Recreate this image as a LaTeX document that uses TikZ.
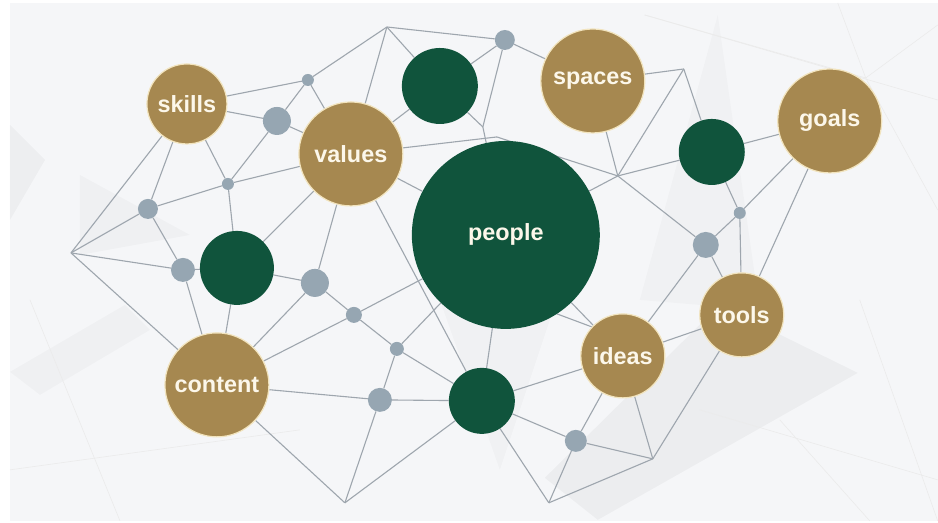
\documentclass[tikz,border=0pt]{standalone}
\usepackage{fontspec}
\setmainfont{Liberation Sans}
\usetikzlibrary{backgrounds}
\definecolor{gold}{RGB}{166,136,80}
\definecolor{goldrim}{RGB}{242,228,190}
\definecolor{pine}{RGB}{16,84,60}
\definecolor{slate}{RGB}{150,166,178}
\definecolor{wire}{RGB}{158,166,174}
\definecolor{cream}{RGB}{252,247,234}
\definecolor{paper}{RGB}{245,246,248}
\begin{document}
\begin{tikzpicture}[
    x=1bp, y=-1bp,
    word/.style={font=\fontsize{23.5}{28}\selectfont\bfseries, text=cream},
    gold node/.style={circle, fill=gold, draw=goldrim, line width=1.2bp, inner sep=0pt, minimum size=#1bp, word},
    green node/.style={circle, fill=pine, inner sep=0pt, minimum size=#1bp, word},
    hub node/.style={circle, fill=slate, inner sep=0pt, minimum size=#1bp},
    every edge/.style={draw=wire, line width=1.1bp},
    faint/.style={draw=black!8, line width=0.6bp},
]
    \node[gold node=80] (skills) at (187,104) {skills};
    \node[gold node=104] (values) at (351,154) {values};
    \node[gold node=104] (spaces) at (593,81) {spaces};
    \node[gold node=104] (goals) at (830,121) {goals};
    \node[gold node=104] (content) at (217,385) {content};
    \node[gold node=84] (ideas) at (623,356) {ideas};
    \node[gold node=84] (tools) at (742,315) {tools};

    \node[green node=188] (people) at (506,235) {people};
    \node[green node=76] (gtop) at (440,86) {};
    \node[green node=66] (gright) at (712,152) {};
    \node[green node=74] (gleft) at (237,268) {};
    \node[green node=66] (gbottom) at (482,401) {};

    \node[hub node=12] (d1) at (308,80) {};
    \node[hub node=28] (d2) at (277,121) {};
    \node[hub node=12] (d3) at (228,184) {};
    \node[hub node=20] (d4) at (148,209) {};
    \node[hub node=20] (d5) at (505,40) {};
    \node[hub node=24] (d6) at (183,270) {};
    \node[hub node=28] (d7) at (315,283) {};
    \node[hub node=16] (d8) at (354,315) {};
    \node[hub node=14] (d9) at (397,349) {};
    \node[hub node=24] (d10) at (380,400) {};
    \node[hub node=22] (d11) at (576,441) {};
    \node[hub node=12] (d12) at (740,213) {};
    \node[hub node=26] (d13) at (706,245) {};

    \coordinate (v1) at (387,27);
    \coordinate (v2) at (71,253);
    \coordinate (v3) at (618,176);
    \coordinate (v4) at (684,69);
    \coordinate (v5) at (345,503);
    \coordinate (v6) at (549,503);
    \coordinate (v7) at (653,459);
    \coordinate (v8) at (497,137);
    \coordinate (v9) at (483,127);
    \coordinate (h1) at (517,299);

    \begin{scope}[on background layer]
        \fill[white] (0,0) rectangle (938,523);
        \fill[paper] (10,3) rectangle (938,521);
        \fill[black, opacity=0.03] (10,125) -- (45,160) -- (10,220) -- cycle;
        \fill[black, opacity=0.025] (10,372) -- (125,305) -- (150,330) -- (40,395) -- cycle;
        \fill[black, opacity=0.025] (80,175) -- (190,235) -- (80,255) -- cycle;
        \fill[black, opacity=0.035] (545,478) -- (598,520) -- (858,373) -- (720,305) -- cycle;
        \fill[black, opacity=0.018] (718,15) -- (760,310) -- (640,300) -- cycle;
        \fill[black, opacity=0.018] (440,300) -- (560,290) -- (500,470) -- cycle;
        \draw[faint] (645,15) -- (938,100);
        \draw[faint] (645,15) -- (866,78) -- (838,3);
        \draw[faint] (866,78) -- (938,25);
        \draw[faint] (866,78) -- (938,210);
        \draw[faint] (700,410) -- (938,480);
        \draw[faint] (860,300) -- (938,521);
        \draw[faint] (780,420) -- (870,521);
        \draw[faint] (30,300) -- (120,521);
        \draw[faint] (10,470) -- (300,430);

        \path (v1) edge (d1);
        \path (v1) edge (values);
        \path (v1) edge (gtop);
        \path (v1) edge (d5);
        \path (d1) edge (skills);
        \path (d1) edge (d2);
        \path (d1) edge (values);
        \path (skills) edge (d2);
        \path (d2) edge (values);
        \path (d2) edge (d3);
        \path (skills) edge (d3);
        \path (d3) edge (d4);
        \path (d3) edge (values);
        \path (d3) edge (gleft);
        \path (d4) edge (skills);
        \path (d4) edge (v2);
        \path (d4) edge (d6);
        \path (v2) edge (skills);
        \path (v2) edge (d6);
        \path (v2) edge (content);
        \path (d6) edge (gleft);
        \path (d6) edge (content);
        \path (gleft) edge (content);
        \path (gleft) edge (d7);
        \path (values) edge (gleft);
        \path (values) edge (d7);
        \path (d7) edge (content);
        \path (d7) edge (d8);
        \path (d8) edge (content);
        \path (d8) edge (people);
        \path (d8) edge (d9);
        \path (d9) edge (people);
        \path (d9) edge (d10);
        \path (d9) edge (gbottom);
        \path (values) edge (gbottom);
        \path (values) edge (gtop);
        \path (values) edge (people);
        \path (values) edge (v8);
        \path (v8) edge (v3);
        \path (d5) edge (gtop);
        \path (d5) edge (spaces);
        \path (d5) edge (v9);
        \path (gtop) edge (v9);
        \path (v9) edge (people);
        \path (spaces) edge (v4);
        \path (spaces) edge (v3);
        \path (v4) edge (v3);
        \path (v4) edge (gright);
        \path (people) edge (v3);
        \path (v3) edge (gright);
        \path (v3) edge (d13);
        \path (gright) edge (goals);
        \path (gright) edge (d12);
        \path (d12) edge (tools);
        \path (goals) edge (d12);
        \path (d12) edge (d13);
        \path (goals) edge (tools);
        \path (d13) edge (tools);
        \path (d13) edge (ideas);
        \path (people) edge (ideas);
        \path (h1) edge (ideas.137);
        \path (ideas) edge (tools);
        \path (people) edge (gbottom);
        \path (gbottom) edge (ideas);
        \path (gbottom) edge (d10);
        \path (d10) edge (content);
        \path (d10) edge (v5);
        \path (content) edge (v5);
        \path (v5) edge (gbottom);
        \path (gbottom) edge (v6);
        \path (gbottom) edge (d11);
        \path (d11) edge (ideas);
        \path (d11) edge (v7);
        \path (d11) edge (v6);
        \path (v6) edge (v7);
        \path (ideas) edge (v7);
        \path (tools) edge (v7);
    \end{scope}
\end{tikzpicture}
\end{document}
